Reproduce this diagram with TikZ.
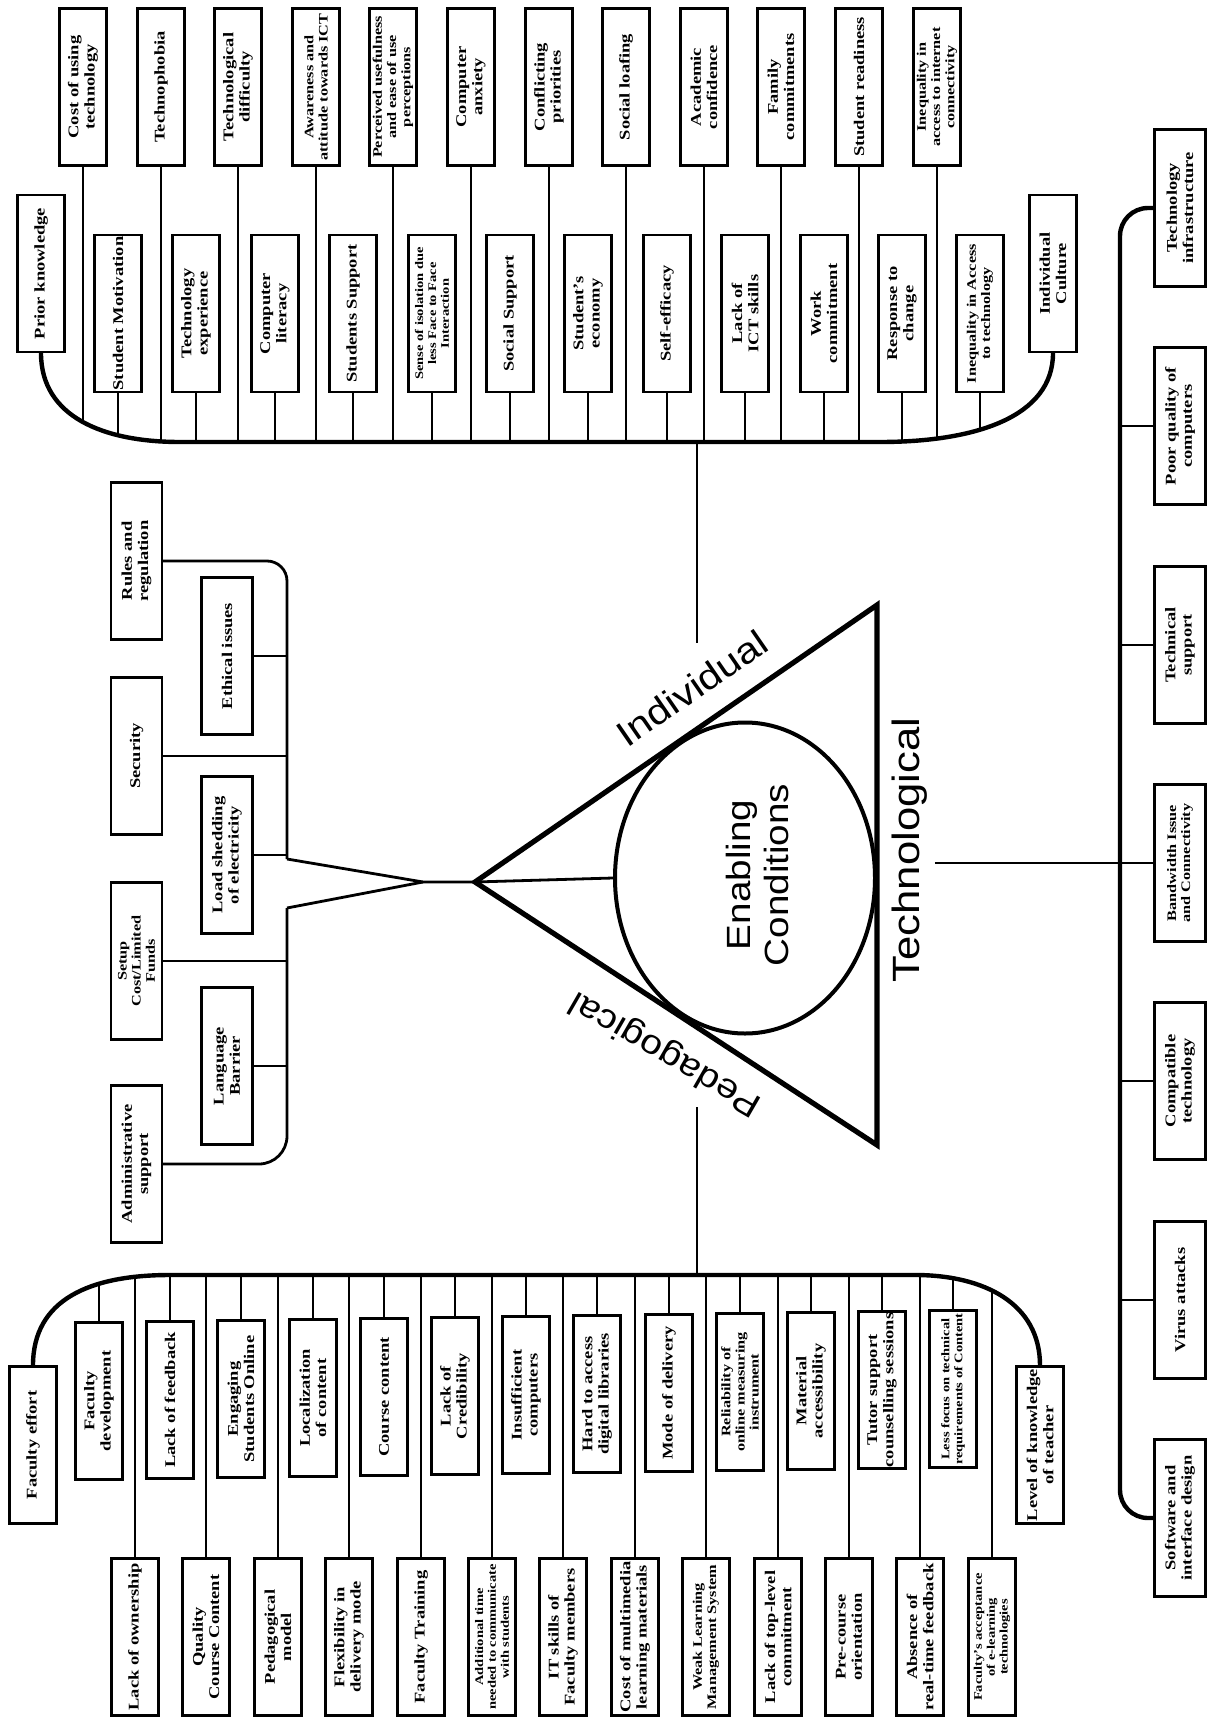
\documentclass[tikz,border=0pt]{standalone}
\usepackage{fontspec}
\newfontfamily\boxfont{Liberation Serif}[FakeStretch=1.25]
\newfontfamily\labelfont{Liberation Sans}[FakeStretch=1.15]
\usetikzlibrary{shapes.geometric}

\begin{document}
\begin{tikzpicture}[x=0.5pt, y=-0.5pt,
                  box/.style={draw, line width=1.1pt, rotate=90, align=center, inner sep=0.5pt,
                              minimum width=78.5pt, minimum height=23.5pt,
                              font=\boxfont\bfseries\fontsize{7.4}{8.1}\selectfont},
                  sbox/.style={box, font=\boxfont\bfseries\fontsize{6.5}{7.1}\selectfont},
                  tbox/.style={box, font=\boxfont\bfseries\fontsize{5.8}{6.4}\selectfont},
                  broad/.style={minimum height=25.5pt},
                  conn/.style={line width=1.4pt},
                  bus/.style={line width=2.2pt},
                  side/.style={font=\labelfont\fontsize{18}{20}\selectfont},
                  tri/.style={line width=2.6pt, line join=miter},
            ]
            \useasboundingbox (0,0) rectangle (1206,1717);

            % individual
            \node[box] (cost) at (83,87) {Cost of using\\technology};
            \node[box] (phobia) at (161,87) {Technophobia};
            \node[box] (difficulty) at (238,87) {Technological\\difficulty};
            \node[sbox] (awareness) at (316,87) {Awareness and\\attitude towards ICT};
            \node[sbox] (useful) at (393,87) {Perceived usefulness\\and ease of use\\perceptions};
            \node[box] (anxiety) at (471,87) {Computer\\anxiety};
            \node[box] (priorities) at (549,87) {Conflicting\\priorities};
            \node[box] (loafing) at (626,87) {Social loafing};
            \node[box] (confidence) at (704,87) {Academic\\confidence};
            \node[box] (family) at (781,87) {Family\\commitments};
            \node[box] (readiness) at (859,87) {Student readiness};
            \node[sbox] (internet) at (937,87) {Inequality in\\access to internet\\connectivity};

            \node[box] (prior) at (41,273.5) {Prior knowledge};
            \node[box] (motivation) at (118,313.5) {Student Motivation};
            \node[box] (experience) at (196,313.5) {Technology\\experience};
            \node[box] (literacy) at (275,313.5) {Computer\\literacy};
            \node[box] (support) at (353,313.5) {Students Support};
            \node[tbox] (isolation) at (432,313.5) {Sense of isolation due\\less Face to Face\\Interaction};
            \node[box] (social) at (510,313.5) {Social Support};
            \node[box] (economy) at (588,313.5) {Student’s\\economy};
            \node[box] (efficacy) at (667,313.5) {Self-efficacy};
            \node[box] (ictskills) at (745,313.5) {Lack of\\ICT skills};
            \node[box] (work) at (824,313.5) {Work\\commitment};
            \node[box] (change) at (902,313.5) {Response to\\change};
            \node[sbox] (access) at (980,313.5) {Inequality in Access\\to technology};
            \node[box] (culture) at (1053,273.5) {Individual\\Culture};

            \coordinate (ileft) at (180,442);
            \coordinate (iright) at (880,442);
            \coordinate (ilow) at (0,470);
            \coordinate (ivtop) at (697,442);
            \coordinate (ivend) at (697,643);

            \begin{scope}
              \clip (0,0) -- (0,352.5) -- (prior.west) .. controls +(0,64) and +(-76,0) .. (ileft) -- (iright)
                    .. controls +(95,0) and +(0,64) .. (culture.west) -- (1206,352.5) -- (1206,0) -- cycle;
              \draw[conn] (cost.west) -- (cost.west |- ilow) (phobia.west) -- (phobia.west |- ilow)
                          (difficulty.west) -- (difficulty.west |- ilow) (awareness.west) -- (awareness.west |- ilow)
                          (useful.west) -- (useful.west |- ilow) (anxiety.west) -- (anxiety.west |- ilow)
                          (priorities.west) -- (priorities.west |- ilow) (loafing.west) -- (loafing.west |- ilow)
                          (confidence.west) -- (confidence.west |- ilow) (family.west) -- (family.west |- ilow)
                          (readiness.west) -- (readiness.west |- ilow) (internet.west) -- (internet.west |- ilow);
              \draw[conn] (motivation.west) -- (motivation.west |- ilow) (experience.west) -- (experience.west |- ilow)
                          (literacy.west) -- (literacy.west |- ilow) (support.west) -- (support.west |- ilow)
                          (isolation.west) -- (isolation.west |- ilow) (social.west) -- (social.west |- ilow)
                          (economy.west) -- (economy.west |- ilow) (efficacy.west) -- (efficacy.west |- ilow)
                          (ictskills.west) -- (ictskills.west |- ilow) (work.west) -- (work.west |- ilow)
                          (change.west) -- (change.west |- ilow) (access.west) -- (access.west |- ilow);
            \end{scope}
            \draw[bus] (prior.west) .. controls +(0,64) and +(-76,0) .. (ileft) -- (iright)
                       .. controls +(95,0) and +(0,64) .. (culture.west);
            \draw[conn] (ivtop) -- (ivend);

            % left tree
            \node[box, broad] (rules) at (136.5,561) {Rules and\\regulation};
            \node[box, broad] (security) at (136.5,756) {Security};
            \node[sbox, broad] (setup) at (136.5,961) {Setup\\Cost/Limited\\Funds};
            \node[box, broad] (admin) at (136.5,1164) {Administrative\\support};
            \node[box, broad] (ethical) at (227,656) {Ethical issues};
            \node[box, broad] (load) at (227,855) {Load shedding\\of electricity};
            \node[box, broad] (language) at (227,1066) {Language\\Barrier};

            \coordinate (spinetop) at (287,859);
            \coordinate (spinebot) at (287,908);
            \coordinate (fork) at (423,882);
            \coordinate (apex) at (475,882);
            \coordinate (tritop) at (877,605);
            \coordinate (tribot) at (877,1145);

            \draw[conn, rounded corners=10pt] (rules.south) -| (spinetop);
            \draw[conn] (spinetop) -- (fork) -- (apex);
            \draw[conn] (spinebot) -- (fork);
            \draw[conn, rounded corners=14pt] (spinebot) |- (admin.south);
            \draw[conn] (ethical.south) -- (ethical.south -| spinetop) (security.south) -- (security.south -| spinetop)
                        (load.south) -- (load.south -| spinetop) (setup.south) -- (setup.south -| spinetop)
                        (language.south) -- (language.south -| spinetop);

            % centre
            \draw[tri] (apex) -- (tritop) -- (tribot) -- cycle;
            \node[ellipse, draw, line width=2pt, minimum width=130pt, minimum height=155.5pt, inner sep=0pt] (enab) at (745,878) {};
            \node[rotate=90, align=center, font=\labelfont\fontsize{16.8}{19}\selectfont] (enabtext) at (757,875) {Enabling\\Conditions};
            \draw[conn] (apex) -- (enab.west);
            \node[side, rotate=34.6] (indlabel) at (692,688) {Individual};
            \node[side, rotate=150, font=\labelfont\fontsize{17}{20}\selectfont] (pedlabel) at (666,1053) {Pedagogical};
            \node[side, rotate=90, font=\labelfont\fontsize{19}{21}\selectfont] (techlabel) at (910,850) {Technological};

            % technological
            \node[box, broad] (infra) at (1180,208) {Technology\\infrastructure};
            \node[box, broad] (poor) at (1180,426) {Poor quality of\\computers};
            \node[box, broad] (techsupport) at (1180,645) {Technical\\support};
            \node[sbox, broad] (band) at (1180,863) {Bandwidth Issue\\and Connectivity};
            \node[box, broad] (compatible) at (1180,1081) {Compatible\\technology};
            \node[box, broad] (virus) at (1180,1300) {Virus attacks};
            \node[box, broad] (software) at (1180,1518) {Software and\\interface design};

            \coordinate (tcorner) at (1120,1518);
            \draw[bus, rounded corners=14pt] (infra.north) -| (tcorner) -- (software.north);
            \draw[conn] (poor.north) -- (poor.north -| tcorner) (techsupport.north) -- (techsupport.north -| tcorner)
                        (compatible.north) -- (compatible.north -| tcorner) (virus.north) -- (virus.north -| tcorner);
            \draw[conn] (techlabel.south |- band.north) -- (band.north);

            % pedagogical
            \node[box] (fdev) at (99,1401) {Faculty\\development};
            \node[box] (feedback) at (170,1400) {Lack of feedback};
            \node[box] (engaging) at (241,1399) {Engaging\\Students Online};
            \node[box] (localize) at (313,1398) {Localization\\of content};
            \node[box] (course) at (384,1397) {Course content};
            \node[box] (credibility) at (455,1396) {Lack of\\Credibility};
            \node[box] (insufficient) at (526,1395) {Insufficient\\computers};
            \node[box] (libraries) at (597,1394) {Hard to access\\digital libraries};
            \node[box] (mode) at (669,1393) {Mode of delivery};
            \node[sbox] (reliability) at (740,1392) {Reliability of\\online measuring\\instrument};
            \node[box] (material) at (811,1391) {Material\\accessibility};
            \node[box] (tutor) at (882,1390) {Tutor support\\counselling sessions};
            \node[tbox] (lessfocus) at (953,1389) {Less focus on technical\\requirements of Content};
            \node[box] (effort) at (33,1445) {Faculty effort};
            \node[box] (knowledge) at (1040,1445) {Level of knowledge\\of teacher};

            \node[box] (ownership) at (135,1637) {Lack of ownership};
            \node[box] (quality) at (206,1637) {Quality\\Course Content};
            \node[box] (pmodel) at (278,1637) {Pedagogical\\model};
            \node[box] (flex) at (349,1637) {Flexibility in\\delivery mode};
            \node[box] (training) at (421,1637) {Faculty Training};
            \node[tbox] (addtime) at (492,1637) {Additional time\\needed to communicate\\with students};
            \node[box] (itskills) at (563,1637) {IT skills of\\Faculty members};
            \node[box] (multimedia) at (635,1637) {Cost of multimedia\\learning materials};
            \node[sbox] (lms) at (706,1637) {Weak Learning\\Management System};
            \node[box] (toplevel) at (778,1637) {Lack of top-level\\commitment};
            \node[box] (precourse) at (849,1637) {Pre-course\\orientation};
            \node[box] (realtime) at (920,1637) {Absence of\\real-time feedback};
            \node[tbox] (acceptance) at (992,1637) {Faculty’s acceptance\\of e-learning\\technologies};

            \coordinate (pleft) at (170,1275);
            \coordinate (pright) at (915,1275);
            \coordinate (phigh) at (0,1255);
            \coordinate (pvend) at (697,1107);
            \coordinate (pvbot) at (697,1275);

            \begin{scope}
              \clip (0,1717) -- (0,1366.5) -- (effort.east) .. controls +(0,-66) and +(-80,0) .. (pleft) -- (pright)
                    .. controls +(69,0) and +(0,-62) .. (knowledge.east) -- (1206,1366.5) -- (1206,1717) -- cycle;
              \draw[conn] (fdev.east) -- (fdev.east |- phigh) (feedback.east) -- (feedback.east |- phigh)
                          (engaging.east) -- (engaging.east |- phigh) (localize.east) -- (localize.east |- phigh)
                          (course.east) -- (course.east |- phigh) (credibility.east) -- (credibility.east |- phigh)
                          (insufficient.east) -- (insufficient.east |- phigh) (libraries.east) -- (libraries.east |- phigh)
                          (mode.east) -- (mode.east |- phigh) (reliability.east) -- (reliability.east |- phigh)
                          (material.east) -- (material.east |- phigh) (tutor.east) -- (tutor.east |- phigh)
                          (lessfocus.east) -- (lessfocus.east |- phigh);
              \draw[conn] (ownership.east) -- (ownership.east |- phigh) (quality.east) -- (quality.east |- phigh)
                          (pmodel.east) -- (pmodel.east |- phigh) (flex.east) -- (flex.east |- phigh)
                          (training.east) -- (training.east |- phigh) (addtime.east) -- (addtime.east |- phigh)
                          (itskills.east) -- (itskills.east |- phigh) (multimedia.east) -- (multimedia.east |- phigh)
                          (lms.east) -- (lms.east |- phigh) (toplevel.east) -- (toplevel.east |- phigh)
                          (precourse.east) -- (precourse.east |- phigh) (realtime.east) -- (realtime.east |- phigh)
                          (acceptance.east) -- (acceptance.east |- phigh);
            \end{scope}
            \draw[bus] (effort.east) .. controls +(0,-66) and +(-80,0) .. (pleft) -- (pright)
                       .. controls +(69,0) and +(0,-62) .. (knowledge.east);
            \draw[conn] (pvbot) -- (pvend);

      \end{tikzpicture}
\end{document}
